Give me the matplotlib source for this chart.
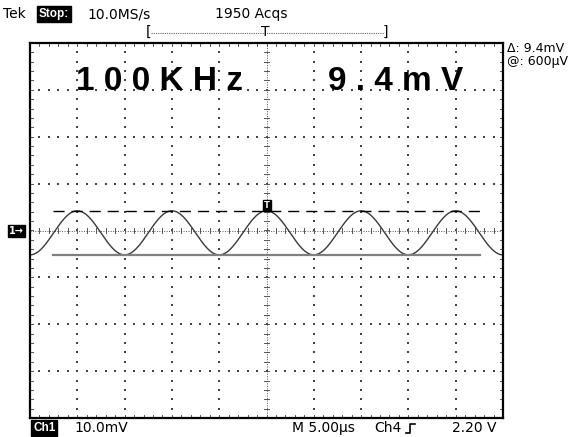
import numpy as np
import matplotlib
matplotlib.use("Agg")
import matplotlib.pyplot as plt
from matplotlib.patches import Rectangle

plt.rcParams["font.family"] = ["DejaVu Sans"]

# scope settings
volts_per_div = 10.0      # mV
time_per_div = 5.0        # us
freq_khz = 100.0
vpp_mv = 9.4
offset_mv = -0.5
h_divs = 10
v_divs = 8

W, H = 580, 437
fig = plt.figure(figsize=(W / 100, H / 100), dpi=100)
fig.patch.set_facecolor("white")

# graticule box in pixels
gx0, gx1, gy0, gy1 = 30, 503, 43, 418
ax = fig.add_axes([gx0 / W, 1 - gy1 / H, (gx1 - gx0) / W, (gy1 - gy0) / H])
ax.set_xlim(-h_divs / 2, h_divs / 2)
ax.set_ylim(-v_divs / 2, v_divs / 2)
ax.set_xticks([])
ax.set_yticks([])
for s in ax.spines.values():
    s.set_linewidth(1.6)
    s.set_color("black")

def px(x, y):
    return x / W, 1 - y / H

# dotted major grid lines
minor = np.arange(-v_divs / 2, v_divs / 2 + 0.01, 0.2)
minor_x = np.arange(-h_divs / 2, h_divs / 2 + 0.01, 0.2)
dot = dict(s=0.7, marker="s", color="#444444", lw=0)
for k in range(-4, 5):
    if k != 0:
        ax.scatter(np.full_like(minor, k), minor, **dot)
for j in range(-3, 4):
    if j != 0:
        ax.scatter(minor_x, np.full_like(minor_x, j), **dot)

# center axes with minor ticks
ax.axhline(0, color="#555555", lw=0.7, ls=(0, (1, 1.5)))
ax.axvline(0, color="#555555", lw=0.7, ls=(0, (1, 1.5)))
for x in minor_x:
    ax.plot([x, x], [-0.06, 0.06], color="#555555", lw=0.7)
for y in minor:
    ax.plot([-0.06, 0.06], [y, y], color="#555555", lw=0.7)

# edge ticks
for x in minor_x:
    ax.plot([x, x], [4, 3.94], color="#555555", lw=0.7)
    ax.plot([x, x], [-4, -3.94], color="#555555", lw=0.7)
for y in minor:
    ax.plot([-5, -4.94], [y, y], color="#555555", lw=0.7)
    ax.plot([5, 4.94], [y, y], color="#555555", lw=0.7)

# waveform
t_us = np.linspace(-h_divs / 2 * time_per_div, h_divs / 2 * time_per_div, 1000)
v_mv = offset_mv + vpp_mv / 2 * np.cos(2 * np.pi * freq_khz * 1e-3 * t_us)
ax.plot(t_us / time_per_div, v_mv / volts_per_div, color="#3a3a3a", lw=1.0)

# cursors at the peak and trough
hi = (offset_mv + vpp_mv / 2) / volts_per_div
lo = (offset_mv - vpp_mv / 2) / volts_per_div
ax.plot([-4.52, 4.52], [hi, hi], color="black", lw=1.0, ls=(0, (8, 5)))
ax.plot([-4.52, 4.52], [lo, lo], color="#808080", lw=1.6)

# trigger point marker
ax.add_patch(Rectangle((-0.07, hi), 0.17, 0.24, color="black", zorder=5))
ax.text(0.015, hi + 0.12, "T", color="white", fontsize=6, ha="center", va="center",
        fontweight="bold", zorder=6)

# readouts
big = dict(fontsize=24, fontweight="bold", ha="center", va="center",
           family="Liberation Sans")
ax.text(-2.26, 3.17, "1 0 0 K H z", **big)
ax.text(2.73, 3.17, "9 . 4 m V", **big)

fs = 10
inv = dict(fontsize=8.5, va="center", color="white", fontweight="bold",
           family="Liberation Sans",
           bbox=dict(boxstyle="square,pad=0.15", fc="black", ec="black"))
fig.text(*px(3, 14), "Tek", fontsize=fs, va="center")
fig.text(*px(39, 14), "Stop:", **inv)
fig.text(*px(87, 14), "10.0MS/s", fontsize=fs, va="center")
fig.text(*px(215, 14), "1950 Acqs", fontsize=fs, va="center")

# record window bracket
fig.text(*px(146, 32), "[", fontsize=fs, va="center")
fig.text(*px(383, 32), "]", fontsize=fs, va="center")
fig.add_artist(plt.Line2D([151 / W, 384 / W], [1 - 33 / H] * 2, color="#666666", lw=0.8,
                          ls=(0, (1, 1))))
fig.text(*px(265, 32), "T", fontsize=fs, va="center", ha="center")

fig.text(*px(507, 49), "\u0394: 9.4mV", fontsize=9, va="center")
fig.text(*px(507, 62), "@: 600\u00b5V", fontsize=9, va="center")

# channel marker
fig.text(*px(9, 231), "1\u2192", fontsize=7, va="center", color="white", fontweight="bold",
         bbox=dict(boxstyle="square,pad=0.1", fc="black", ec="black"))

fig.text(*px(33, 428), "Ch1", **inv)
fig.text(*px(74, 428), "10.0mV", fontsize=fs, va="center")
fig.text(*px(292, 428), "M 5.00\u00b5s", fontsize=fs, va="center")
fig.text(*px(374, 428), "Ch4", fontsize=fs, va="center")
fig.add_artist(plt.Line2D([406 / W, 410 / W, 410 / W, 415 / W],
                          [1 - 433 / H, 1 - 433 / H, 1 - 424 / H, 1 - 424 / H],
                          color="black", lw=1.2))
fig.text(*px(452, 428), "2.20 V", fontsize=fs, va="center")

fig.savefig("out.png", dpi=100, facecolor="white")
